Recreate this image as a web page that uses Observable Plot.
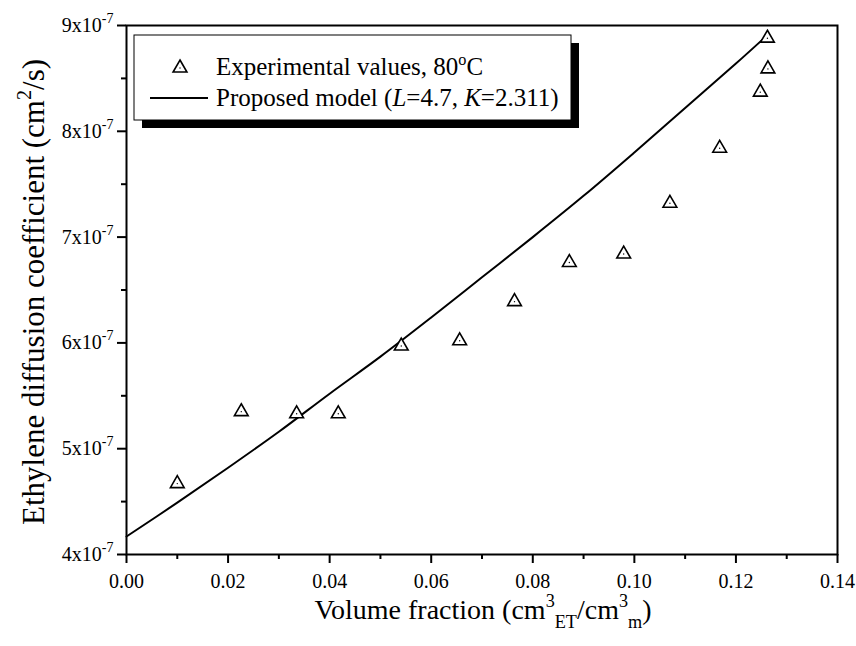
<!DOCTYPE html>
<html>
<head>
<meta charset="utf-8">
<script src="https://cdn.jsdelivr.net/npm/d3@7"></script>
<script src="https://cdn.jsdelivr.net/npm/@observablehq/plot@0.6"></script>
<style>
  body { margin: 0; background: #fff; }
  #chart svg { display: block; }
  #chart svg, #chart svg text { font-family: "Liberation Serif", "DejaVu Serif", "Times New Roman", Times, serif !important; }
</style>
</head>
<body>
<div id="chart"></div>
<script>
// Experimental ethylene diffusion coefficients at 80 °C
const volumeFraction = [0.0100, 0.0226, 0.0335, 0.0417, 0.0541, 0.0656, 0.0764, 0.0872, 0.0979, 0.1070, 0.1168, 0.1248, 0.1263, 0.1262];
const diffusionCoef  = [4.67e-7, 5.35e-7, 5.33e-7, 5.33e-7, 5.97e-7, 6.02e-7, 6.39e-7, 6.76e-7, 6.84e-7, 7.32e-7, 7.84e-7, 8.37e-7, 8.59e-7, 8.88e-7];

// Proposed model curve (L = 4.7, K = 2.311)
const modelFraction = [0, 0.01, 0.02, 0.03, 0.04, 0.05, 0.06, 0.07, 0.08, 0.09, 0.10, 0.11, 0.12, 0.126];
const modelCoef     = [4.17e-7, 4.49e-7, 4.82e-7, 5.16e-7, 5.52e-7, 5.87e-7, 6.24e-7, 6.62e-7, 7.00e-7, 7.39e-7, 7.80e-7, 8.22e-7, 8.64e-7, 8.90e-7];

// Axis ticks
const xTicks = [0, 0.02, 0.04, 0.06, 0.08, 0.10, 0.12, 0.14];
const xMinorTicks = [0.01, 0.03, 0.05, 0.07, 0.09, 0.11, 0.13];
const yTicks = [4e-7, 5e-7, 6e-7, 7e-7, 8e-7, 9e-7];
const yTickMantissa = ["4", "5", "6", "7", "8", "9"];
const yMinorTicks = [4.5e-7, 5.5e-7, 6.5e-7, 7.5e-7, 8.5e-7];

const points = volumeFraction.map((v, i) => ({phi: v, D: diffusionCoef[i]}));
const model = modelFraction.map((v, i) => ({phi: v, D: modelCoef[i]}));

const serif = "Liberation Serif, DejaVu Serif, Times New Roman, serif";

const chart = Plot.plot({
  width: 856,
  height: 646,
  marginLeft: 126,
  marginRight: 19,
  marginTop: 25,
  marginBottom: 92,
  style: {fontFamily: serif, fontSize: "20px", color: "#000", background: "#fff"},
  x: {domain: [0, 0.14], label: null},
  y: {domain: [4e-7, 9e-7], label: null},
  marks: [
    Plot.axisX({ticks: xTicks, tickSize: 9, tickPadding: 10, strokeWidth: 2, tickFormat: d => d.toFixed(2)}),
    Plot.axisX({ticks: xMinorTicks, tickSize: 5, strokeWidth: 2, tickFormat: () => ""}),
    Plot.axisY({ticks: yTicks, tickSize: 9, tickPadding: 4, strokeWidth: 2,
      tickFormat: d => yTickMantissa[yTicks.findIndex(t => Math.abs(t - d) < 1e-12)] + "x10"}),
    Plot.axisY({ticks: yMinorTicks, tickSize: 5, strokeWidth: 2, tickFormat: () => ""}),
    Plot.line(model, {x: "phi", y: "D", stroke: "#000", strokeWidth: 2, curve: "catmull-rom"}),
    Plot.dot(points, {x: "phi", y: "D", symbol: "triangle", r: 5.1, stroke: "#000", strokeWidth: 1.6, fill: "#fff"}),
    Plot.dot(points, {x: "phi", y: "D", r: 0.7, fill: "#000"}),
    Plot.frame({stroke: "#000", strokeWidth: 2})
  ]
});

document.getElementById("chart").appendChild(chart);
const svg = d3.select(chart);

// Exponent on the y tick labels
svg.selectAll('g[aria-label="y-axis tick label"] text').each(function() {
  const t = d3.select(this);
  if (!t.text()) return;
  t.append("tspan").attr("dy", "-9").attr("font-size", "14px").text("-7");
});

// Helper to write rich text runs (normal / sup / sub / italic)
function richText(g, runs, size) {
  let shift = 0;
  runs.forEach(([s, kind]) => {
    const sp = g.append("tspan").text(s);
    let target = 0;
    if (kind === "sup") { target = -size * 0.42; sp.attr("font-size", size * 0.65); }
    else if (kind === "sub") { target = size * 0.32; sp.attr("font-size", size * 0.65); }
    else if (kind === "i") { sp.attr("font-style", "italic"); }
    if (target !== shift) { sp.attr("dy", target - shift); shift = target; }
  });
}

// Axis titles
const yTitle = svg.append("text")
  .attr("transform", "translate(44,292) rotate(-90)")
  .attr("text-anchor", "middle")
  .attr("font-size", 31).attr("fill", "#000");
richText(yTitle, [["Ethylene diffusion coefficient (cm"], ["2", "sup"], ["/s)"]], 31);

const xTitle = svg.append("text")
  .attr("x", 483).attr("y", 619)
  .attr("text-anchor", "middle")
  .attr("font-size", 28).attr("fill", "#000");
richText(xTitle, [["Volume fraction (cm"], ["3", "sup"], ["ET", "sub"], ["/cm"], ["3", "sup"], ["m", "sub"], [")"]], 28);

// Legend box with drop shadow
const lg = svg.append("g");
lg.append("rect").attr("x", 142).attr("y", 43).attr("width", 437).attr("height", 85).attr("fill", "#000");
lg.append("rect").attr("x", 134).attr("y", 35).attr("width", 437).attr("height", 85)
  .attr("fill", "#fff").attr("stroke", "#000").attr("stroke-width", 1);
lg.append("path")
  .attr("d", d3.symbol(d3.symbolTriangle, 83)())
  .attr("transform", "translate(180,68)")
  .attr("fill", "#fff").attr("stroke", "#000").attr("stroke-width", 1.6);
lg.append("circle").attr("cx", 180).attr("cy", 68).attr("r", 0.7).attr("fill", "#000");
lg.append("line").attr("x1", 150).attr("x2", 208).attr("y1", 98).attr("y2", 98)
  .attr("stroke", "#000").attr("stroke-width", 2);
const l1 = lg.append("text").attr("x", 216).attr("y", 75).attr("text-anchor", "start")
  .attr("font-size", 25).attr("fill", "#000");
richText(l1, [["Experimental values, 80"], ["o", "sup"], ["C"]], 25);
const l2 = lg.append("text").attr("x", 216).attr("y", 106).attr("text-anchor", "start")
  .attr("font-size", 25).attr("fill", "#000");
richText(l2, [["Proposed model ("], ["L", "i"], ["=4.7, "], ["K", "i"], ["=2.311)"]], 25);
</script>
</body>
</html>
